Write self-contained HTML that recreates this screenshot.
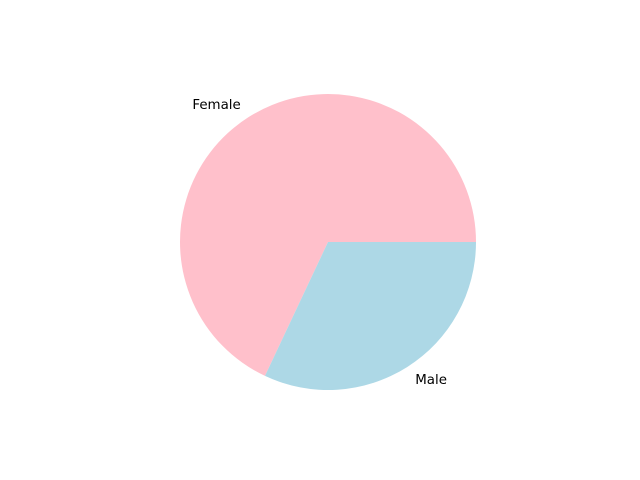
<!DOCTYPE html>
<html>
<head>
<meta charset="utf-8">
<style>
  html,body{margin:0;padding:0;background:#fff;}
  svg{display:block;}
  text{font-family:"DejaVu Sans","Liberation Sans",sans-serif;font-size:13.4px;fill:#000;}
</style>
</head>
<body>
<svg id="chart" width="640" height="480" viewBox="0 0 640 480"></svg>
<script>
const categories = ["Female", "Male"];
const values = [68, 32];
const colors = ["pink", "lightblue"];

const svg = document.getElementById('chart');
const NS = "http://www.w3.org/2000/svg";
const cx = 328, cy = 242, r = 148;
const total = values.reduce((a, b) => a + b, 0);
function pt(angDeg, rad) {
  const a = angDeg * Math.PI / 180;
  return [cx + rad * Math.cos(a), cy - rad * Math.sin(a)];
}
let start = 0;
values.forEach((v, i) => {
  const sweep = v / total * 360;
  const end = start + sweep;
  const [x1, y1] = pt(start, r);
  const [x2, y2] = pt(end, r);
  const large = sweep > 180 ? 1 : 0;
  const p = document.createElementNS(NS, 'path');
  p.setAttribute('d', `M${cx},${cy} L${x1},${y1} A${r},${r} 0 ${large} 0 ${x2},${y2} Z`);
  p.setAttribute('fill', colors[i]);
  
  
  svg.appendChild(p);
  const mid = start + sweep / 2;
  const [lx, ly] = pt(mid, r * 1.1);
  const t = document.createElementNS(NS, 'text');
  t.setAttribute('x', lx);
  t.setAttribute('y', ly + 4.5);
  t.setAttribute('text-anchor', Math.cos(mid * Math.PI / 180) < 0 ? 'end' : 'start');
  t.textContent = categories[i];
  
  
  svg.appendChild(t);
  start = end;
});
</script>
</body>
</html>
